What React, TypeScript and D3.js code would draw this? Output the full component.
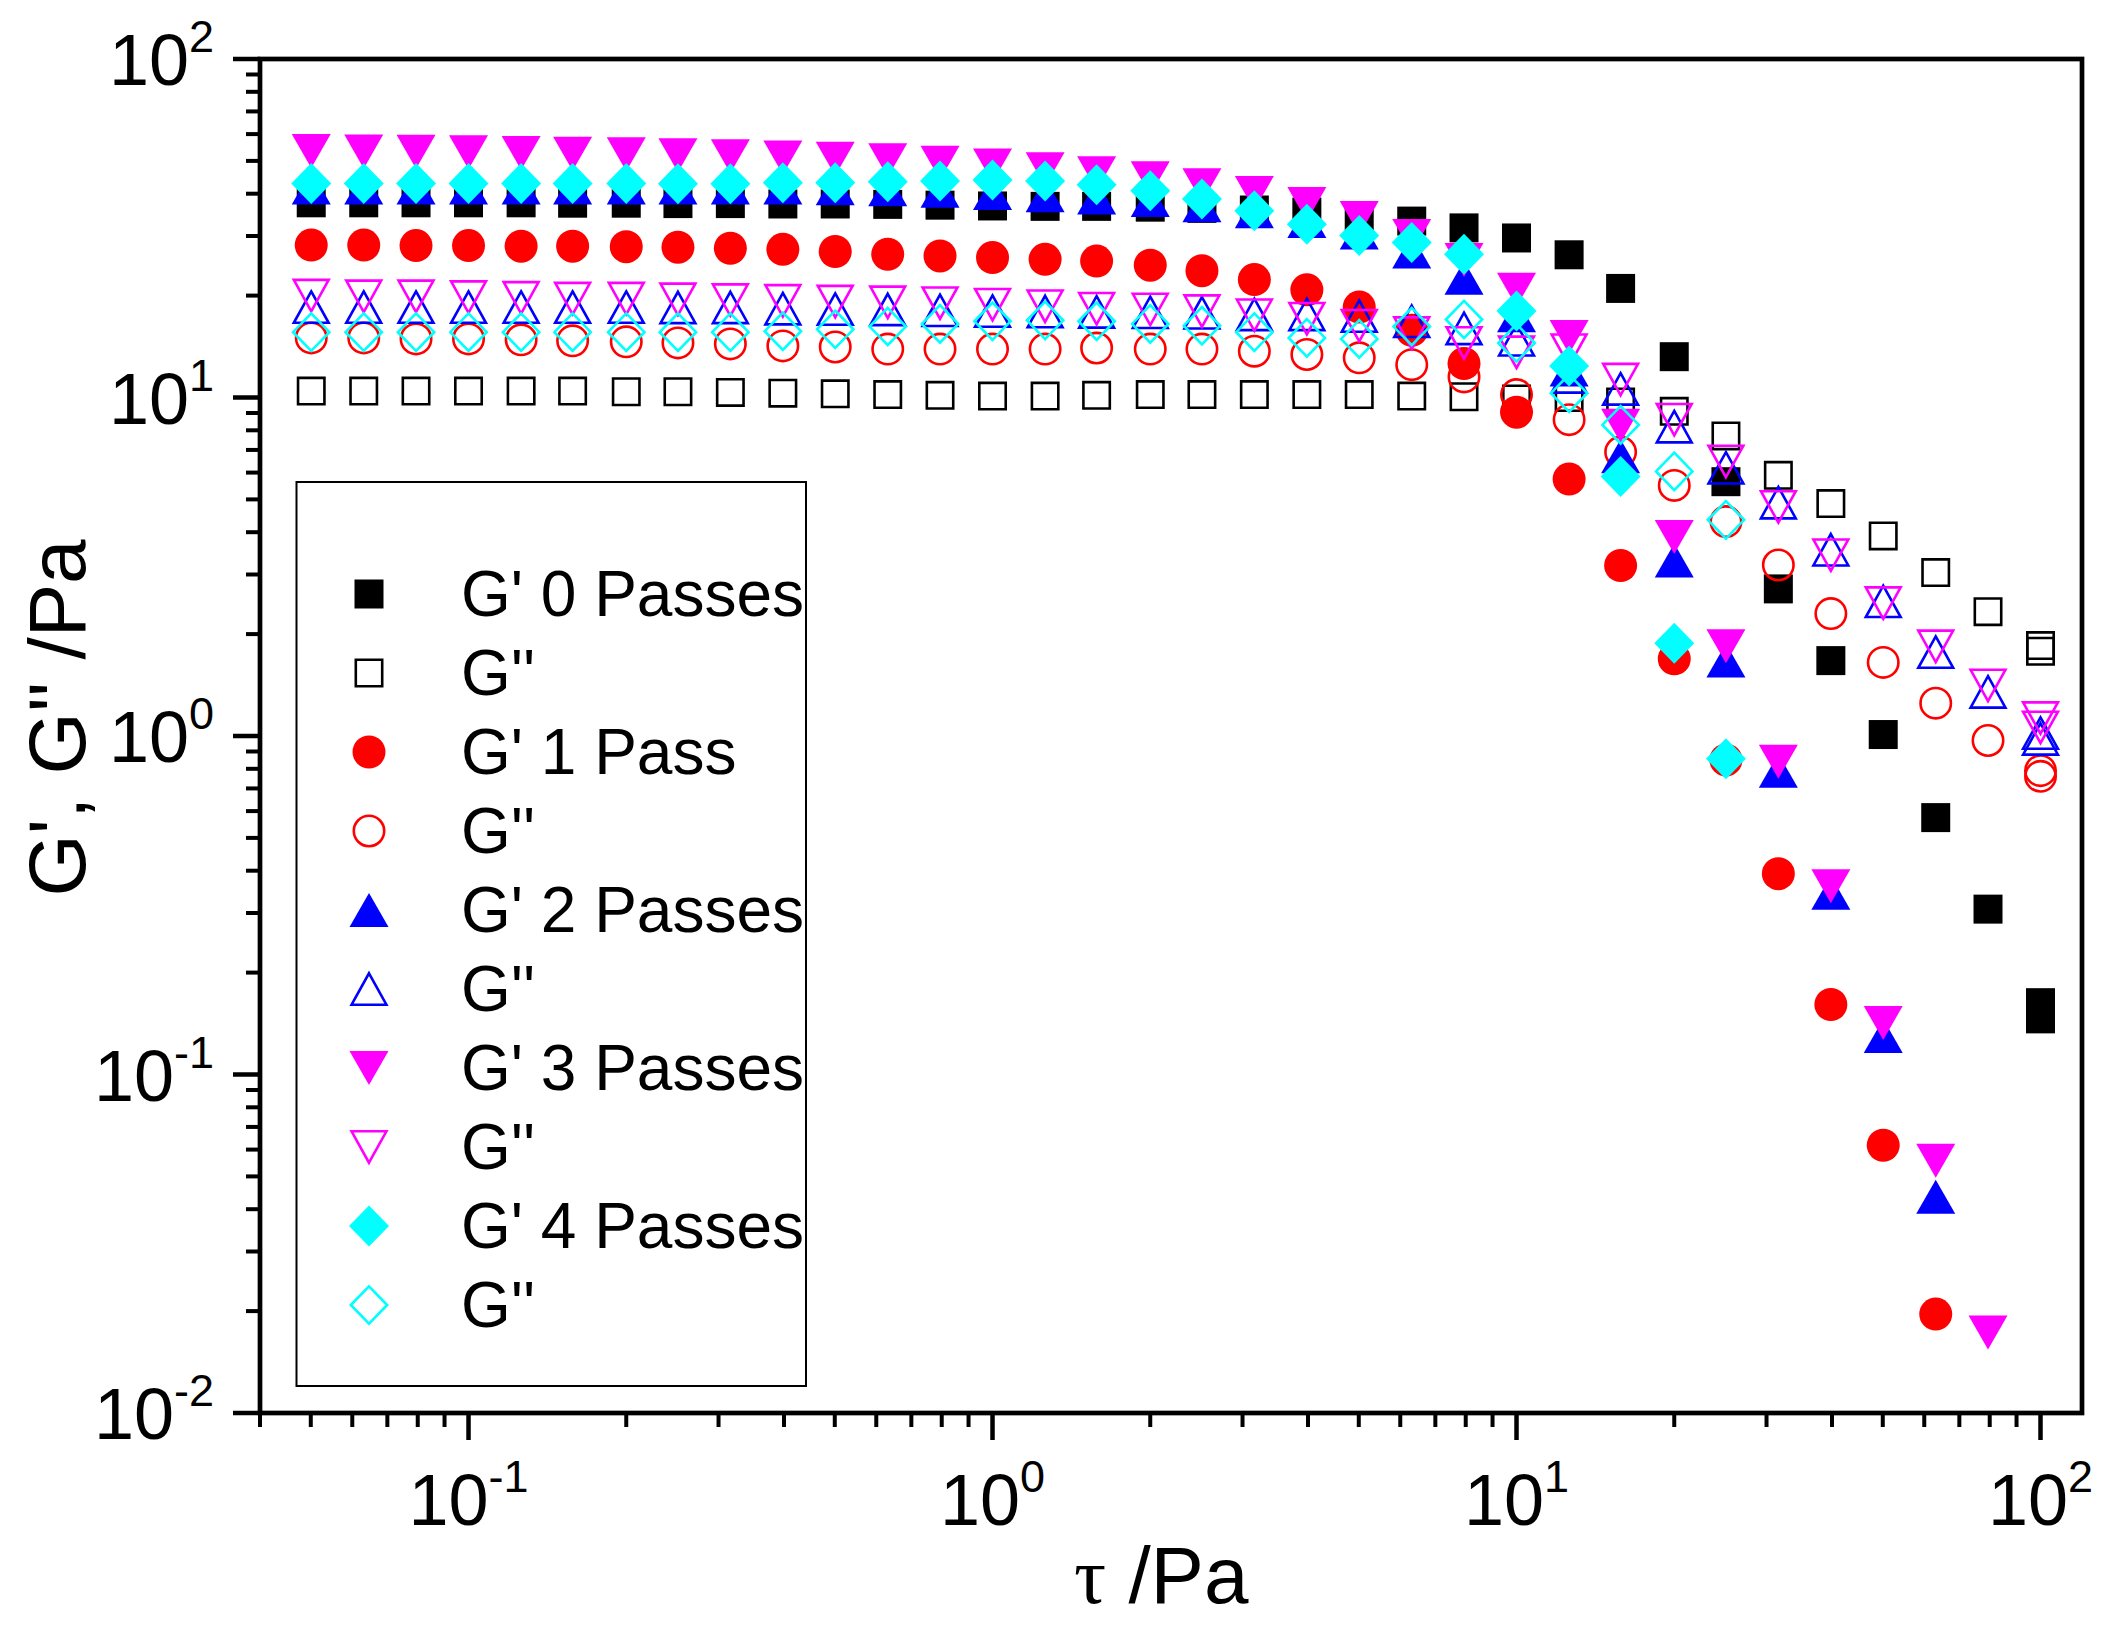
import React from "react";
import * as d3 from "d3";

// ---- data ----
const tau = [
  0.0501, 0.0631, 0.0794, 0.1, 0.126, 0.158, 0.2, 0.251, 0.316, 0.398, 0.501, 0.631, 0.794, 1,
  1.26, 1.58, 2, 2.51, 3.16, 3.98, 5.01, 6.31, 7.94, 10, 12.6, 15.8, 20, 25.1, 31.6, 39.8, 50.1,
  63.1, 79.4, 100, 100,
];

const gp0 = [
  37.6, 37.6, 37.6, 37.6, 37.6, 37.5, 37.5, 37.4, 37.4, 37.3, 37.3, 37.2, 37.0, 36.8, 36.7, 36.7,
  36.5, 36.2, 35.8, 35.3, 34.2, 33.2, 31.7, 29.6, 26.4, 21.0, 13.2, 5.64, 2.72, 1.67, 1.01, 0.574,
  0.308, 0.163, 0.146,
];
const gpp0 = [
  10.45, 10.45, 10.45, 10.45, 10.45, 10.45, 10.4, 10.4, 10.35, 10.3, 10.25, 10.2, 10.15, 10.1,
  10.1, 10.15, 10.2, 10.2, 10.2, 10.2, 10.2, 10.1, 10.05, 9.9, 10.0, 9.7, 9.1, 7.7, 5.89, 4.86,
  3.9, 3.04, 2.33, 1.85, 1.78,
];
const gp1 = [
  28.2, 28.2, 28.1, 28.1, 28.0, 28.0, 27.9, 27.8, 27.6, 27.4, 27.0, 26.5, 26.2, 25.9, 25.6, 25.3,
  24.6, 23.7, 22.3, 20.8, 18.5, 15.8, 12.6, 9.05, 5.74, 3.19, 1.69, 0.85, 0.392, 0.161, 0.0618,
  0.0196, null, null, null,
];
const gpp1 = [
  15.0, 15.0, 14.9, 14.9, 14.8, 14.7, 14.6, 14.5, 14.4, 14.2, 14.1, 13.9, 13.9, 13.9, 13.9, 14.0,
  13.9, 13.9, 13.7, 13.4, 13.1, 12.5, 11.5, 10.2, 8.6, 6.9, 5.5, 4.3, 3.2, 2.3, 1.65, 1.25, 0.97,
  0.79, 0.76,
];
const gp2 = [
  41.7, 41.7, 41.7, 41.7, 41.7, 41.7, 41.7, 41.7, 41.7, 41.7, 41.5, 41.2, 40.8, 40.2, 39.6, 39.0,
  38.3, 37.0, 35.5, 33.2, 30.7, 27.0, 22.6, 17.5, 12.1, 6.7, 3.3, 1.67, 0.79, 0.344, 0.13, 0.0435,
  null, null, null,
];
const gpp2 = [
  18.5, 18.5, 18.5, 18.5, 18.5, 18.5, 18.5, 18.45, 18.45, 18.3, 18.25, 18.2, 18.1, 18.0, 17.95,
  17.9, 17.85, 17.8, 17.6, 17.6, 17.4, 16.8, 16.0, 14.8, 11.5, 10.6, 8.2, 6.2, 4.89, 3.55, 2.5,
  1.77, 1.35, 1.02, 0.98,
];
const gp3 = [
  53.5, 53.3, 53.2, 53.0, 52.8, 52.5, 52.3, 52.0, 51.6, 51.2, 50.7, 50.2, 49.4, 48.5, 47.2, 46.0,
  44.4, 42.4, 40.2, 37.3, 33.9, 30.0, 25.5, 20.8, 15.1, 8.25, 3.87, 1.84, 0.84, 0.36, 0.142,
  0.0556, 0.0173, null, null,
];
const gpp3 = [
  20.0, 19.9, 19.9, 19.8, 19.7, 19.6, 19.6, 19.5, 19.4, 19.3, 19.2, 19.1, 19.0, 18.8, 18.6, 18.3,
  18.2, 18.0, 17.5, 17.1, 16.3, 15.5, 14.5, 13.6, 13.8, 11.3, 8.6, 6.47, 4.75, 3.42, 2.47, 1.84,
  1.41, 1.13, 1.06,
];
const gp4 = [
  42.9, 42.9, 42.9, 42.9, 42.9, 42.9, 42.9, 42.8, 42.8, 43.1, 43.1, 43.4, 43.6, 43.9, 43.6, 42.5,
  40.8, 38.6, 35.6, 32.5, 30.1, 28.7, 26.5, 18.0, 12.4, 5.84, 1.88, 0.857, null, null, null, null,
  null, null, null,
];
const gpp4 = [
  15.6, 15.6, 15.6, 15.6, 15.6, 15.6, 15.6, 15.6, 15.6, 15.7, 15.9, 16.2, 16.5, 16.8, 16.9, 16.8,
  16.5, 16.3, 15.6, 15.0, 14.9, 16.2, 17.0, 14.5, 10.3, 8.3, 6.05, 4.35, null, null, null, null,
  null, null, null,
];

const legendLabels = [
  "G' 0 Passes", "G''", "G' 1 Pass", "G''", "G' 2 Passes", "G''", "G' 3 Passes", "G''",
  "G' 4 Passes", "G''",
];
const xMajorTicks = [0.1, 1, 10, 100];
const yMajorTicks = [0.01, 0.1, 1, 10, 100];
const xTitleSymbol = "τ";
const xTitleRest = " /Pa";
const yTitle = "G', G'' /Pa";

type Shape = "square" | "circle" | "up" | "down" | "diamond";

const series: { values: (number | null)[]; color: string; shape: Shape; filled: boolean }[] = [
  { values: gp0, color: "#000000", shape: "square", filled: true },
  { values: gpp0, color: "#000000", shape: "square", filled: false },
  { values: gp1, color: "#FF0000", shape: "circle", filled: true },
  { values: gpp1, color: "#FF0000", shape: "circle", filled: false },
  { values: gp2, color: "#0000FF", shape: "up", filled: true },
  { values: gpp2, color: "#0000FF", shape: "up", filled: false },
  { values: gp3, color: "#FF00FF", shape: "down", filled: true },
  { values: gpp3, color: "#FF00FF", shape: "down", filled: false },
  { values: gp4, color: "#00FFFF", shape: "diamond", filled: true },
  { values: gpp4, color: "#00FFFF", shape: "diamond", filled: false },
];

// ---- layout ----
const W = 2109;
const H = 1648;
const L = 260, R = 2082, T = 59, B = 1413;
const FONT = "'Liberation Sans', Arial, Helvetica, sans-serif";

const x = d3.scaleLog().domain([0.04, 120]).range([L, R]);
const y = d3.scaleLog().domain([0.01, 100]).range([B, T]);

const OPEN_W = 2.6;

function markerPath(shape: Shape, filled: boolean): string {
  const k = filled ? 0 : OPEN_W / 2;
  if (shape === "square") {
    const h = 14.5 - k;
    return `M${-h},${-h}H${h}V${h}H${-h}Z`;
  }
  if (shape === "circle") {
    const r = 16.5 - k;
    return `M${r},0A${r},${r} 0 1,1 ${-r},0A${r},${r} 0 1,1 ${r},0Z`;
  }
  if (shape === "up" || shape === "down") {
    const hw = 19.5 - k * 1.6;
    const hh = 17 - k;
    const s = shape === "up" ? 1 : -1;
    return `M0,${-hh * s}L${hw},${hh * s}L${-hw},${hh * s}Z`;
  }
  const dv = 20.5 - k * 1.4;
  const dh = 20 - k * 1.4;
  return `M0,${-dv}L${dh},0L0,${dv}L${-dh},0Z`;
}

function Marker({ cx, cy, shape, filled, color }: { cx: number; cy: number; shape: Shape; filled: boolean; color: string }) {
  return (
    <path
      d={markerPath(shape, filled)}
      transform={`translate(${cx},${cy})`}
      fill={filled ? color : "none"}
      stroke={filled ? "none" : color}
      strokeWidth={filled ? 0 : OPEN_W}
      strokeLinejoin="miter"
    />
  );
}

function SupLabel({ px, py, exp, anchor }: { px: number; py: number; exp: number; anchor: "middle" | "end" }) {
  return (
    <text x={px} y={py} textAnchor={anchor} fontFamily={FONT} fontSize={72} fill="#000">
      10
      <tspan dy={-33} fontSize={45}>{String(exp)}</tspan>
    </text>
  );
}

export default function App() {
  React.useEffect(() => {
    document.body.style.margin = "0";
  }, []);

  const xMinor = x.ticks().filter((t) => !xMajorTicks.some((m) => Math.abs(m - t) < 1e-9));
  const yMinor = y.ticks().filter((t) => !yMajorTicks.some((m) => Math.abs(m - t) < 1e-12));

  return (
    <svg
      width={W}
      height={H}
      viewBox={`0 0 ${W} ${H}`}
      style={{ position: "absolute", left: 0, top: 0, display: "block", background: "#fff" }}
    >
      <rect x={0} y={0} width={W} height={H} fill="#fff" />

      {/* data */}
      <g>
        {series.map((s, si) =>
          s.values.map((v, i) =>
            v == null ? null : (
              <Marker key={`${si}-${i}`} cx={x(tau[i])} cy={y(v)} shape={s.shape} filled={s.filled} color={s.color} />
            )
          )
        )}
      </g>

      {/* frame */}
      <rect x={L} y={T} width={R - L} height={B - T} fill="none" stroke="#000" strokeWidth={4.7} />

      {/* x ticks */}
      {xMajorTicks.map((t) => (
        <line key={`xM${t}`} x1={x(t)} x2={x(t)} y1={B} y2={B + 27} stroke="#000" strokeWidth={4.5} />
      ))}
      {xMinor.map((t) => (
        <line key={`xm${t}`} x1={x(t)} x2={x(t)} y1={B} y2={B + 14} stroke="#000" strokeWidth={4} />
      ))}
      {xMajorTicks.map((t) => (
        <SupLabel key={`xl${t}`} px={x(t)} py={1525} exp={Math.round(Math.log10(t))} anchor="middle" />
      ))}

      {/* y ticks */}
      {yMajorTicks.map((t) => (
        <line key={`yM${t}`} x1={L - 27} x2={L} y1={y(t)} y2={y(t)} stroke="#000" strokeWidth={4.5} />
      ))}
      {yMinor.map((t) => (
        <line key={`ym${t}`} x1={L - 14} x2={L} y1={y(t)} y2={y(t)} stroke="#000" strokeWidth={4} />
      ))}
      {yMajorTicks.map((t) => (
        <SupLabel key={`yl${t}`} px={214} py={y(t) + 26} exp={Math.round(Math.log10(t))} anchor="end" />
      ))}

      {/* axis titles */}
      <text x={1074} y={1603} fontFamily={FONT} fontSize={80} fill="#000">
        <tspan fontFamily="'Liberation Serif', 'Times New Roman', serif">{xTitleSymbol}</tspan>
        {xTitleRest}
      </text>
      <text
        transform="translate(85,718) rotate(-90)"
        textAnchor="middle"
        fontFamily={FONT}
        fontSize={80}
        fill="#000"
      >
        {yTitle}
      </text>

      {/* legend */}
      <rect x={296.5} y={482} width={509.5} height={904} fill="none" stroke="#000" strokeWidth={2} />
      {series.map((s, i) => {
        const cy = 594 + i * 79;
        return (
          <g key={`lg${i}`}>
            <Marker cx={369} cy={cy} shape={s.shape} filled={s.filled} color={s.color} />
            <text x={461} y={cy + 22} fontFamily={FONT} fontSize={64} fill="#000">
              {legendLabels[i]}
            </text>
          </g>
        );
      })}
    </svg>
  );
}
